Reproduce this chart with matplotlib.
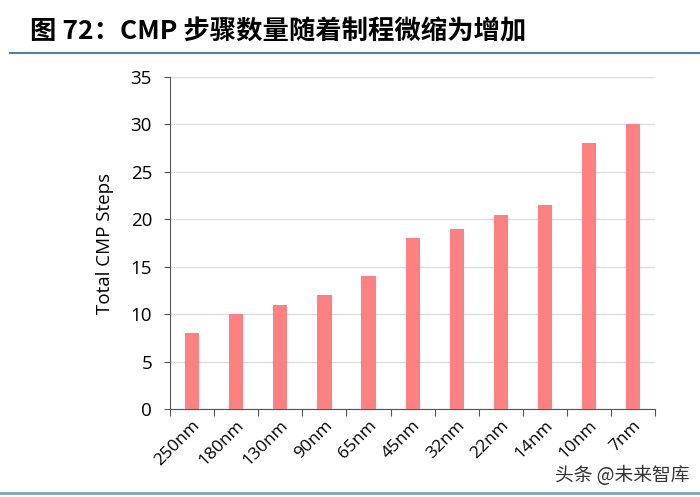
import matplotlib
matplotlib.use("Agg")
import matplotlib.pyplot as plt
from matplotlib.lines import Line2D

# process nodes and total CMP steps
nodes = ['250nm', '180nm', '130nm', '90nm', '65nm', '45nm', '32nm', '22nm', '14nm', '10nm', '7nm']
steps = [8, 10, 11, 12, 14, 18, 19, 20.5, 21.5, 28, 30]
y_ticks = [0, 5, 10, 15, 20, 25, 30, 35]

title = '图 72：CMP 步骤数量随着制程微缩为增加'
watermark = '头条 @未来智库'

plt.rcParams['font.family'] = ['Open Sans', 'Noto Sans CJK SC', 'DejaVu Sans']

fig = plt.figure(figsize=(7, 4.97), dpi=100)
ax = fig.add_axes([0.243, 0.177, 0.693, 0.668])

x = list(range(len(nodes)))
ax.bar(x, steps, width=0.32, color='#FF8080', zorder=3)

ax.set_xlim(-0.5, len(nodes) - 0.5)
ax.set_ylim(0, 35)
ax.set_yticks(y_ticks)
ax.tick_params(axis='y', labelsize=13.5, length=4, color='#555555', pad=9)

# category boundaries carry the ticks, labels sit in the middle
ax.set_xticks([i - 0.5 for i in range(len(nodes) + 1)])
ax.set_xticklabels([])
ax.set_xticks(x, minor=True)
ax.set_xticklabels(nodes, minor=True, rotation=45, ha='right', rotation_mode='anchor', fontsize=12.5)
ax.tick_params(axis='x', which='major', length=5, color='#555555')
ax.tick_params(axis='x', which='minor', length=0, pad=6)

ax.grid(axis='y', color='#DDDDDD', linewidth=1, zorder=0)
for side in ['top', 'right']:
    ax.spines[side].set_visible(False)
for side in ['left', 'bottom']:
    ax.spines[side].set_color('#555555')

ax.set_ylabel('Total CMP Steps', fontsize=13.5, labelpad=12)

fig.text(0.043, 0.935, title, fontsize=19, fontweight='bold',
         family=['Noto Sans CJK SC', 'DejaVu Sans'], va='center', ha='left')
fig.add_artist(Line2D([0.014, 1.0], [0.893, 0.893], color='#4F7FA8', linewidth=1.5))
fig.add_artist(Line2D([0.0, 1.0], [0.008, 0.008], color='#7FA3C4', linewidth=2))
fig.text(0.985, 0.044, watermark, fontsize=13.5, color='#333333',
         family=['Noto Sans CJK SC', 'DejaVu Sans'], ha='right', va='center')

fig.savefig('out.png', dpi=100)
